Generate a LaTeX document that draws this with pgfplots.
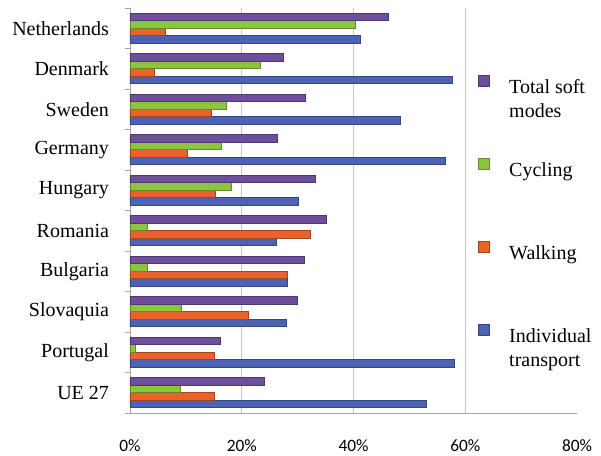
\documentclass[border=0pt]{standalone}
\usepackage{fontspec}
\setmainfont{Liberation Serif}
\newfontfamily\tickfont{Carlito}
\usepackage{pgfplots}
\usepackage{pgfplotstable}
\pgfplotsset{compat=1.18}
\definecolor{cTot}{HTML}{6F4E9E}
\definecolor{cCyc}{HTML}{8CC63E}
\definecolor{cWal}{HTML}{E8622A}
\definecolor{cInd}{HTML}{4B62B5}
\newcommand\legtxt[2]{\rmfamily\fontsize{15}{18}\selectfont\begin{tabular}[t]{@{}l@{}}#1\\#2\end{tabular}}
\pgfplotstableread{
y Total Cycling Walking Individual
0 24.0 9.0 15.0 53.0
1 16.1 1.0 15.0 58.1
2 30.0 9.1 21.1 28.0
3 31.1 3.1 28.1 28.1
4 35.1 3.1 32.2 26.1
5 33.1 18.2 15.2 30.1
6 26.3 16.3 10.2 56.4
7 31.3 17.3 14.5 48.3
8 27.4 23.4 4.3 57.6
9 46.3 40.4 6.4 41.3
}\data
\begin{document}
\begin{tikzpicture}
\begin{axis}[
  scale only axis,
  width=335.25pt, height=303.75pt,
  xbar, bar width=0.185,
  xmin=0, xmax=80, ymin=-0.5, ymax=9.5,
  axis x line*=bottom, axis y line*=left,
  axis line style={gray!70, line width=0.6pt},
  xtick={0,20,40,60}, xticklabels={0\%,20\%,40\%,60\%},
  extra x ticks={80}, extra x tick labels={80\%},
  extra x tick style={grid=none},
  xmajorgrids, major grid style={gray!45, line width=0.6pt},
  major x tick style={draw=none},
  xticklabel style={font=\tickfont\fontsize{13}{15}\selectfont, yshift=-12pt},
  ytick={0,...,9},
  yticklabels={UE 27,Portugal,Slovaquia,Bulgaria,Romania,Hungary,Germany,Sweden,Denmark,Netherlands},
  major y tick style={draw=none},
  minor ytick={-0.5,0.5,...,9.5},
  minor tick length=4pt, tick align=outside,
  minor y tick style={gray!70, line width=0.5pt},
  yticklabel style={font=\fontsize{15}{18}\selectfont, xshift=-8pt},
  every axis plot/.append style={line width=0.4pt},
  reverse legend,
  legend style={at={(0.778,0.834)}, anchor=north west, draw=none, fill=none,
    inner sep=0pt, row sep=47pt,
    nodes={inner sep=0pt},
    /tikz/every odd column/.append style={column sep=15pt}},
  legend cell align=left,
  legend image code/.code={\draw[#1] (0pt,0pt) rectangle (8pt,8pt);},
]
\addplot[fill=cInd, draw=cInd!70!black, bar shift=-0.2775] table[x=Individual, y=y]{\data};
\addlegendentry{\legtxt{Individual}{transport}}
\addplot[fill=cWal, draw=cWal!70!black, bar shift=-0.0925] table[x=Walking, y=y]{\data};
\addlegendentry{\legtxt{Walking}{\mbox{}}}
\addplot[fill=cCyc, draw=cCyc!70!black, bar shift=0.0925] table[x=Cycling, y=y]{\data};
\addlegendentry{\legtxt{Cycling}{\mbox{}}}
\addplot[fill=cTot, draw=cTot!70!black, bar shift=0.2775] table[x=Total, y=y]{\data};
\addlegendentry{\legtxt{Total soft}{modes}}
\end{axis}
\pgfresetboundingbox
\path[use as bounding box] ([xshift=-97.5pt,yshift=-32.25pt]current axis.south west) rectangle ([xshift=18pt,yshift=6pt]current axis.north east);
\end{tikzpicture}
\end{document}
